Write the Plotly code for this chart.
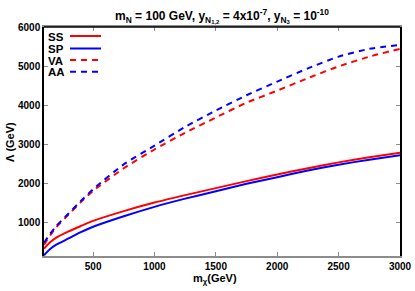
import plotly.graph_objects as go

# m_chi (GeV)
x_solid = [100, 150, 200, 300, 400, 500, 750, 1000, 1250, 1500, 1750, 2000, 2250, 2500, 2750, 3000]
ss_vals = [320, 480, 600, 760, 900, 1030, 1280, 1500, 1690, 1870, 2050, 2220, 2380, 2530, 2660, 2780]
sp_vals = [150, 310, 420, 580, 740, 880, 1150, 1390, 1600, 1790, 1980, 2150, 2320, 2470, 2600, 2715]

x_dash = [100, 150, 200, 300, 400, 500, 750, 1000, 1250, 1500, 1750, 2000, 2250, 2500, 2750, 3000]
va_vals = [420, 660, 870, 1190, 1510, 1800, 2380, 2860, 3290, 3680, 4060, 4370, 4690, 4990, 5240, 5440]
aa_vals = [470, 700, 900, 1220, 1540, 1840, 2480, 2960, 3440, 3860, 4250, 4600, 4940, 5240, 5440, 5540]

x_ticks = [500, 1000, 1500, 2000, 2500, 3000]
y_ticks = [1000, 2000, 3000, 4000, 5000, 6000]

RED = "rgb(255,0,0)"
BLUE = "rgb(0,0,255)"
FONT = "Liberation Sans, Arial, sans-serif"

fig = go.Figure()
series = [
    ("SS", x_solid, ss_vals, RED, "solid"),
    ("SP", x_solid, sp_vals, BLUE, "solid"),
    ("VA", x_dash, va_vals, RED, "6px,5px"),
    ("AA", x_dash, aa_vals, BLUE, "6px,5px"),
]
for name, xs, ys, col, dash in series:
    fig.add_trace(go.Scatter(x=xs, y=ys, mode="lines", name=name,
                             line=dict(color=col, width=2, dash=dash, shape="spline", smoothing=0.6),
                             showlegend=False, hoverinfo="skip"))

H = 291.0
W = 415.0
L, R, T, B = 44, 15, 27, 35
pw = W - L - R
ph = H - T - B


def px(xp):
    return (xp - L) / pw


def py(yp):
    return 1 - (yp - T) / ph


# legend (gnuplot style: text then line sample)
leg_y = [36, 48.5, 60, 71.7]
for (name, xs, ys, col, dash), yy in zip(series, leg_y):
    fig.add_annotation(x=px(47), y=py(yy), xref="paper", yref="paper",
                       text="<b>%s</b>" % name, showarrow=False, xanchor="left",
                       yanchor="middle", borderpad=0, height=11, valign="middle",
                       font=dict(family=FONT, size=11.5, color="black"))
    fig.add_shape(type="line", xref="paper", yref="paper",
                  x0=px(70), x1=px(101), y0=py(yy), y1=py(yy),
                  line=dict(color=col, width=2, dash=dash))

# axis titles
fig.add_annotation(x=px(215), y=py(279), xref="paper", yref="paper",
                   text="<b>m<sub>χ</sub>(GeV)</b>", showarrow=False,
                   xanchor="center", yanchor="middle",
                   font=dict(family=FONT, size=11, color="black"))
fig.add_annotation(x=px(10), y=py(142), xref="paper", yref="paper",
                   text="<b>Λ (GeV)</b>", showarrow=False, textangle=-90,
                   xanchor="center", yanchor="middle",
                   font=dict(family=FONT, size=11, color="black"))

# top border black
fig.add_shape(type="line", xref="paper", yref="paper", x0=0, x1=1, y0=1, y1=1,
              line=dict(color="black", width=1.5))

fig.update_layout(
    width=415, height=291,
    margin=dict(l=L, r=R, t=T, b=B, autoexpand=False),
    paper_bgcolor="white", plot_bgcolor="white",
    title=dict(text="<b>m<sub>N</sub> = 100 GeV, y<sub>N<sub>1,2</sub></sub> = 4x10<sup>-7</sup>, y<sub>N<sub>3</sub></sub> = 10<sup>-10</sup></b>",
               x=0.5, xref="paper", y=0.96, yref="container", xanchor="center",
               font=dict(family=FONT, size=12, color="black")),
    xaxis=dict(range=[100, 3000], tickvals=x_ticks, ticktext=[str(v) for v in x_ticks],
               automargin=False,
               showgrid=False, zeroline=False, showline=True, linecolor="#8c8c8c", linewidth=2,
               mirror="ticks", ticks="inside", ticklen=4, tickcolor="#8c8c8c",
               tickfont=dict(family=FONT, size=10, color="black", weight="bold")),
    yaxis=dict(range=[130, 6000], tickvals=y_ticks, ticktext=[str(v) for v in y_ticks],
               automargin=False,
               showgrid=False, zeroline=False, showline=True, linecolor="black", linewidth=1.5,
               mirror="ticks", ticks="inside", ticklen=4, tickcolor="#8c8c8c",
               tickfont=dict(family=FONT, size=10, color="black", weight="bold")),
)

fig.write_html("out.html", config={"displayModeBar": False},
               post_script="document.body.style.margin='0px';document.body.style.padding='0px';")
